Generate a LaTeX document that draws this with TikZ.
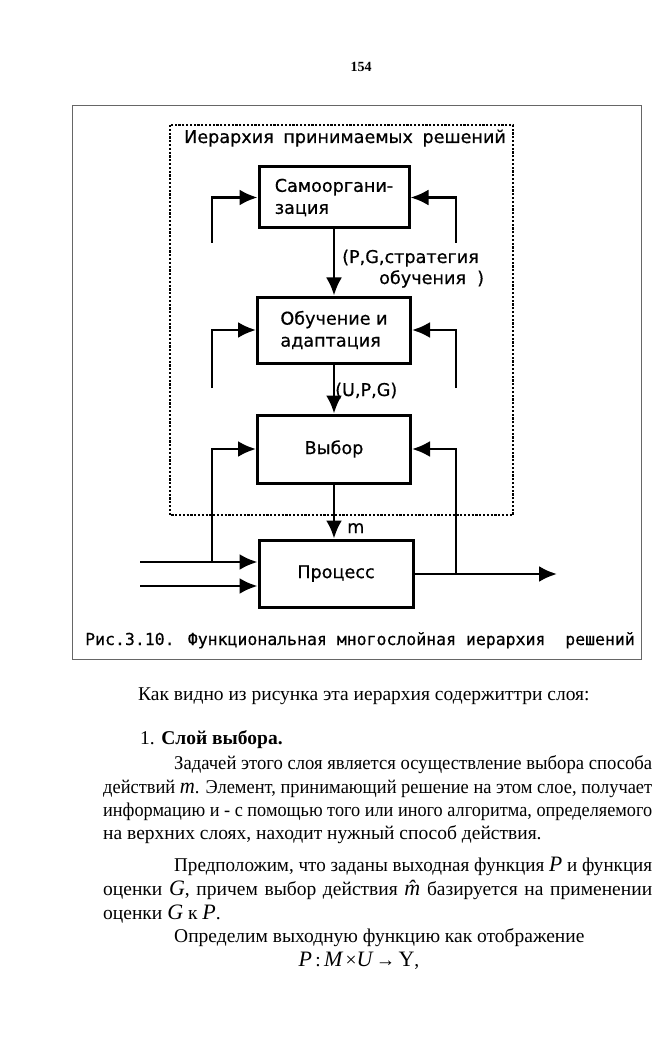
\documentclass[tikz,border=0pt]{standalone}
\usepackage{fontspec}
\usepackage{graphicx}
\setmainfont{Liberation Serif}
\newfontfamily\DiagFont[FakeBold=0.6]{DejaVu Sans}
\newfontfamily\CapFont[FakeBold=0.4]{DejaVu Sans Mono}
\usetikzlibrary{arrows.meta}
\def\Wth{2.7pt}
\def\BoxWth{3pt}
\def\Ink{black}
\def\FrameClr{black!60}
\tikzset{
    block/.style={
        draw=\Ink, line width=\BoxWth, inner sep=0pt,
        font=\DiagFont\fontsize{17.6}{22}\selectfont, align=left
    },
    link/.style={
        draw=\Ink, line width=\Wth,
        -{Latex[length=18pt,width=16pt]}
    },
    tag/.style={font=\DiagFont\fontsize{17.6}{22}\selectfont, anchor=base west, inner sep=0pt},
    hier box/.style={draw=\Ink, line width=2.8pt, dash pattern=on 2.2pt off 1.6pt},
    frame/.style={draw=\FrameClr, line width=0.9pt},
    body line/.style={font=\fontsize{19.5}{23.5}\selectfont, anchor=base west, inner sep=0pt}
}
\newcommand{\mvar}[1]{{\fontsize{22}{23}\selectfont\itshape #1}}
\newsavebox\LineBox
\newcommand{\JustLine}[4]{% #1:Name, #2:Start, #3:Width, #4:Text
    \node[body line] (#1) at (#2) {\sbox\LineBox{#4}%
        \ifdim\wd\LineBox>#3\relax
            \resizebox{#3}{\ht\LineBox}{\usebox\LineBox}%
        \else
            \makebox[#3][s]{#4}%
        \fi};
}

\begin{document}
\begin{tikzpicture}[x=1pt, y=-1pt]
    \useasboundingbox (0,0) rectangle (667,1056);
    \fill[white] (0,0) rectangle (667,1056);

    \node[font=\bfseries\fontsize{14}{16}\selectfont, anchor=base, inner sep=0pt] (pagenum) at (361,72) {154};

    % figure frame and hierarchy box
    \draw[frame] (72,105) rectangle (641,659);
    \draw[hier box] (170,125) rectangle (513,515);
    \node[tag, anchor=base] (title) at (345,143) {Иерархия\hspace{4pt} принимаемых\hspace{4pt} решений};

    \node[block, minimum width=150pt, minimum height=61pt] (samo) at (334,197.5) {Самооргани-\\зация};
    \node[block, minimum width=153pt, minimum height=66pt] (obuch) at (334,330) {Обучение и\\адаптация};
    \node[block, minimum width=153pt, minimum height=68pt] (vybor) at (334,449) {Выбор};
    \node[block, minimum width=154pt, minimum height=67pt] (proc) at (336,573.5) {Процесс};

    \coordinate (fs-l) at (212,243);
    \coordinate (fs-r) at (456,243);
    \coordinate (fo-l) at (212,388);
    \coordinate (fo-r) at (456,388);
    \coordinate (in-a) at (140,562);
    \coordinate (in-b) at (140,586);
    \coordinate (out) at (557,574);
    \coordinate (tap-l) at (212,562);
    \coordinate (tap-r) at (456,574);

    \draw[link] (fs-l) |- (samo.west);
    \draw[link] (fs-r) |- (samo.east);
    \draw[link] (fo-l) |- (obuch.west);
    \draw[link] (fo-r) |- (obuch.east);
    \draw[link] (tap-l) |- (vybor.west);
    \draw[link] (tap-r) |- (vybor.east);

    \draw[link] (samo.south) -- (obuch.north);
    \draw[link] (obuch.south) -- (vybor.north);
    \draw[link] (vybor.south) -- (vybor.south |- proc.north);

    \draw[link] (in-a) -- (in-a -| proc.west);
    \draw[link] (in-b) -- (in-b -| proc.west);
    \draw[link] (proc.east |- out) -- (out);

    \node[tag] (lbl-pg) at (342,263) {(P,G,стратегия};
    \node[tag] (lbl-ob) at (379,284) {обучения\ \ )};
    \node[tag] (lbl-upg) at (335,396) {(U,P,G)};
    \node[tag] (lbl-m) at (347,533) {m};

    \node[anchor=base west, inner sep=0pt, font=\CapFont\fontsize{16.5}{20}\selectfont] (caption) at (85,645)
        {Рис.3.10. Функциональная многослойная иерархия\ \ решений};

    % page text
    \node[body line] (intro) at (138,700) {Как видно из рисунка эта иерархия содержиттри слоя:};
    \node[body line] (head) at (140,744) {1. \textbf{Слой выбора.}};
    \JustLine{p1a}{174,769}{478pt}{Задачей этого слоя является осуществление выбора способа}
    \JustLine{p1b}{103,793}{549pt}{действий \mvar{m}. Элемент, принимающий решение на этом слое, получает}
    \JustLine{p1c}{103,816}{549pt}{информацию и - с помощью того или иного алгоритма, определяемого}
    \node[body line] (p1d) at (103,839) {на верхних слоях, находит нужный способ действия.};
    \JustLine{p2a}{174,871}{478pt}{Предположим, что заданы выходная функция \mvar{P} и функция}
    \JustLine{p2b}{103,895}{549pt}{оценки \mvar{G}, причем выбор действия \mvar{\^{m}} базируется на применении}
    \node[body line] (p2c) at (103,919) {оценки \mvar{G} к \mvar{P}.};
    \node[body line] (p3) at (174,942) {Определим выходную функцию как отображение};
    \node[body line, anchor=base] (formula) at (359,966)
        {\mvar{P}\,:\,\mvar{M}\,×\mvar{U}\,→\,{\fontsize{22}{23}\selectfont Y},};
\end{tikzpicture}
\end{document}
